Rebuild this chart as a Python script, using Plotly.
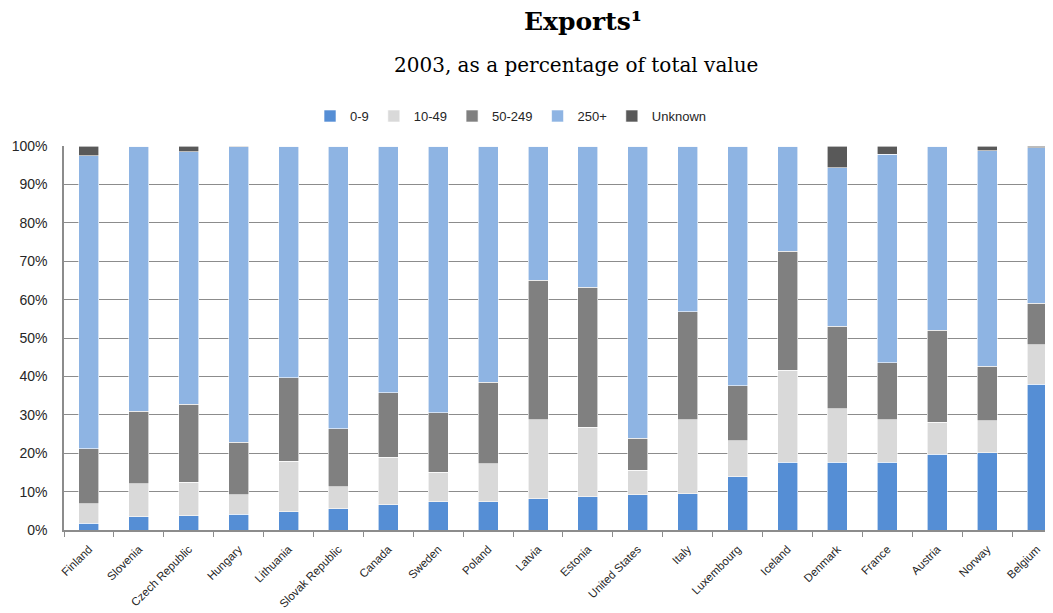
import plotly.graph_objects as go

countries = ["Finland", "Slovenia", "Czech Republic", "Hungary", "Lithuania",
             "Slovak Republic", "Canada", "Sweden", "Poland", "Latvia", "Estonia",
             "United States", "Italy", "Luxembourg", "Iceland", "Denmark", "France",
             "Austria", "Norway", "Belgium"]

size_0_9 = [1.7, 3.5, 3.7, 4.1, 4.7, 5.6, 6.6, 7.3, 7.3, 8.2, 8.6, 9.2, 9.5, 13.9, 17.7, 17.7, 17.7, 19.7, 20.1, 38.0]
size_10_49 = [5.2, 8.6, 8.8, 5.1, 13.2, 5.6, 12.3, 7.7, 9.9, 20.5, 18.2, 6.4, 19.2, 9.4, 23.9, 13.9, 11.0, 8.4, 8.3, 10.2]
size_50_249 = [14.3, 18.8, 20.3, 13.7, 21.7, 15.2, 16.8, 15.6, 21.3, 36.4, 36.4, 8.3, 28.1, 14.3, 31.0, 21.4, 14.8, 23.9, 14.3, 10.8]
size_250 = [76.3, 69.1, 65.7, 76.9, 60.3, 73.5, 64.3, 69.4, 61.5, 34.9, 36.8, 76.1, 43.2, 62.4, 27.4, 41.3, 54.3, 48.0, 56.1, 40.5]
unknown = [2.5, 0.0, 1.5, 0.2, 0.1, 0.1, 0.0, 0.0, 0.0, 0.0, 0.0, 0.0, 0.0, 0.0, 0.0, 5.7, 2.2, 0.0, 1.2, 0.5]

series_names = ["0-9", "10-49", "50-249", "250+", "Unknown"]
series_values = [size_0_9, size_10_49, size_50_249, size_250, unknown]
series_colors = ["#558ED5", "#D9D9D9", "#808080", "#8EB4E3", "#595959"]

fig = go.Figure()
for name, vals, col in zip(series_names, series_values, series_colors):
    fig.add_trace(go.Bar(
        x=countries, y=vals, name=name, width=0.4,
        marker=dict(color=col, line=dict(color="#FFFFFF", width=0.6)),
    ))

# page body has an 8px margin, so the figure is sized/offset to compensate
fig.update_layout(
    barmode="stack",
    width=1045, height=605,
    margin=dict(l=56, r=0, t=138, b=83, pad=0, autoexpand=False),
    paper_bgcolor="white", plot_bgcolor="white",
    font=dict(family="Liberation Sans, Arial, sans-serif", color="#404040"),
    showlegend=True,
    legend=dict(orientation="h", x=0.452, xanchor="center", y=1.078, yanchor="middle",
                font=dict(size=13, color="#262626"), itemwidth=30, traceorder="normal"),
    xaxis=dict(range=[-0.5, 19.32], tickangle=-45, tickfont=dict(size=11.5, color="#262626"),
               tickson="boundaries", ticks="outside", ticklen=5, tickcolor="#8C8C8C",
               ticklabelstandoff=6,
               showline=True, linecolor="#8C8C8C", linewidth=2, showgrid=False,
               automargin=False, fixedrange=True),
    yaxis=dict(range=[0, 100], dtick=10, ticksuffix="%", tickfont=dict(size=14, color="#262626"),
               showgrid=True, gridcolor="#8C8C8C", gridwidth=1, automargin=False,
               ticklabelstandoff=12,
               showline=True, linecolor="#8C8C8C", linewidth=1.5, ticks="", zeroline=False),
    annotations=[
        dict(text="<b>Exports¹</b>", xref="paper", yref="paper", x=0.525, y=1.325,
             xanchor="center", yanchor="middle", showarrow=False,
             font=dict(family="DejaVu Serif, serif", size=25, color="#000000")),
        dict(text="2003, as a percentage of total value", xref="paper", yref="paper", x=0.518, y=1.211,
             xanchor="center", yanchor="middle", showarrow=False,
             font=dict(family="DejaVu Serif, serif", size=20, color="#000000")),
    ],
)

fig.write_html("out.html")
